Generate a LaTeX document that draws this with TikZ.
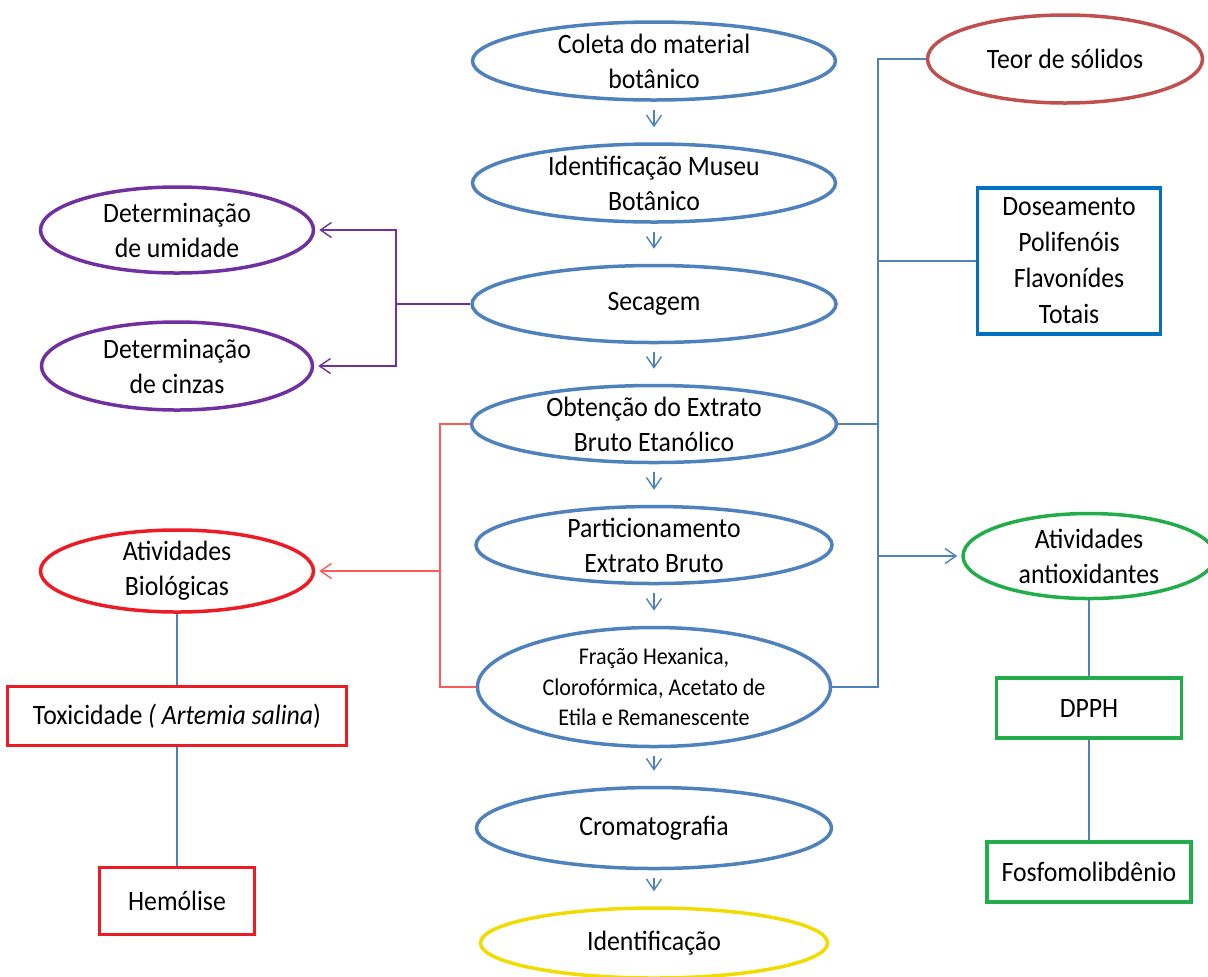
\documentclass[tikz,border=0pt]{standalone}
\usepackage{fontspec}
\setmainfont{Carlito}[FakeStretch=0.92]
\usetikzlibrary{shapes.geometric,arrows.meta}
\definecolor{stepBlue}{HTML}{4F81BD}
\definecolor{dryPurple}{HTML}{7030A0}
\definecolor{bioRed}{HTML}{ED1C24}
\definecolor{linkRed}{HTML}{FF5A5A}
\definecolor{solidRed}{HTML}{C0504D}
\definecolor{doseBlue}{HTML}{0070C0}
\definecolor{antiGreen}{HTML}{22AD4B}
\definecolor{idYellow}{HTML}{F0DC00}
\tikzset{
  oval/.style={ellipse, draw=#1, line width=1.75pt, inner xsep=0pt, inner ysep=-14pt,
    align=center, font=\fontsize{14}{17.5}\selectfont},
  box/.style={rectangle, draw=#1, line width=1.75pt, inner xsep=0pt, inner ysep=-14pt,
    align=center, font=\fontsize{14}{18}\selectfont},
  link/.style={draw=stepBlue, line width=0.7pt},
  plink/.style={draw=dryPurple, line width=0.7pt},
  rlink/.style={draw=linkRed, line width=0.7pt},
  tip/.style={-{Straight Barb[length=5.5pt,width=7.5pt]}}
}

\begin{document}
\begin{tikzpicture}[x=0.5pt,y=-0.5pt]
\useasboundingbox (0,0) rectangle (1208,976);
\foreach \n/\txt/\y/\w/\h in {colet/{Coleta do material\\botânico}/61/181.5/39,
    ident/{Identificação Museu\\Botânico}/183/181.5/39,
    sec/{Secagem}/304/182/38.5,
    obt/{Obtenção do Extrato\\Bruto Etanólico}/424/182.5/38.5,
    part/{Particionamento\\Extrato Bruto}/545/178/38.5,
    crom/{Cromatografia}/828/177.5/40.5} {
  \node[oval=stepBlue, minimum width=\w pt, minimum height=\h pt] (\n) at (654,\y) {\txt};
}
\node[oval=stepBlue, minimum width=176.5pt, minimum height=59.5pt, font=\fontsize{12}{15.25}\selectfont]
  (frac) at (654,687) {Fração Hexanica,\\Clorofórmica, Acetato de\\Etila e Remanescente};
\node[oval=idYellow, minimum width=173.5pt, minimum height=35pt] (idfin) at (654,943) {Identificação};

\node[oval=dryPurple, minimum width=136.5pt, minimum height=43pt] (umid) at (177,230) {Determinação\\de umidade};
\node[oval=dryPurple, minimum width=135.5pt, minimum height=44pt] (cinz) at (177,366) {Determinação\\de cinzas};
\node[oval=bioRed, minimum width=136.5pt, minimum height=41pt] (biol) at (177,571) {Atividades\\Biológicas};
\node[box=bioRed, minimum width=169.5pt, minimum height=29.5pt] (toxi) at (177,716) {Toxicidade \textit{( Artemia salina})};
\node[box=bioRed, minimum width=77.5pt, minimum height=33.5pt] (hemo) at (177,901) {Hemólise};

\node[oval=solidRed, minimum width=137.5pt, minimum height=44pt] (teor) at (1065,59) {Teor de sólidos};
\node[box=doseBlue, minimum width=91.5pt, minimum height=73pt] (dose) at (1069,261) {Doseamento\\Polifenóis\\Flavonídes\\Totais};
\node[oval=antiGreen, minimum width=126pt, minimum height=42.5pt] (antiox) at (1089,556) {Atividades\\antioxidantes};
\node[box=antiGreen, minimum width=92.5pt, minimum height=30pt] (dpph) at (1089,708) {DPPH};
\node[box=antiGreen, minimum width=102pt, minimum height=30pt] (fosf) at (1089,872) {Fosfomolibdênio};

\foreach \a/\b in {colet/ident, ident/sec, sec/obt, obt/part, part/frac, frac/crom, crom/idfin} {
  \draw[link, tip, shorten <=4pt, shorten >=7.5pt] (\a.south) -- (\a.south |- \b.north);
}

\coordinate (pj) at (396,304);
\draw[plink] (sec.west) -- (pj);
\draw[plink, tip, shorten >=2pt] (pj) |- (umid);
\draw[plink, tip, shorten >=2pt] (pj) |- (cinz);

\coordinate (rj) at (440,571);
\draw[rlink] (obt.west) -| (rj) |- (frac.west);
\draw[rlink, tip, shorten >=2pt] (rj) -- (biol);
\draw[link] (biol) -- (toxi);
\draw[link] (toxi) -- (hemo);

\coordinate (bt) at (878,59);
\coordinate (bb) at (878,687);
\draw[link] (teor.west) -- (bt) -- (bb) -- (frac.east);
\draw[link] (obt.east) -- (obt.east -| bt);
\draw[link] (dose.west) -- (dose.west -| bt);
\draw[link, tip, shorten >=2pt] (antiox.west -| bt) -- (antiox.west);
\draw[link] (antiox) -- (dpph);
\draw[link] (dpph) -- (fosf);
\end{tikzpicture}
\end{document}
